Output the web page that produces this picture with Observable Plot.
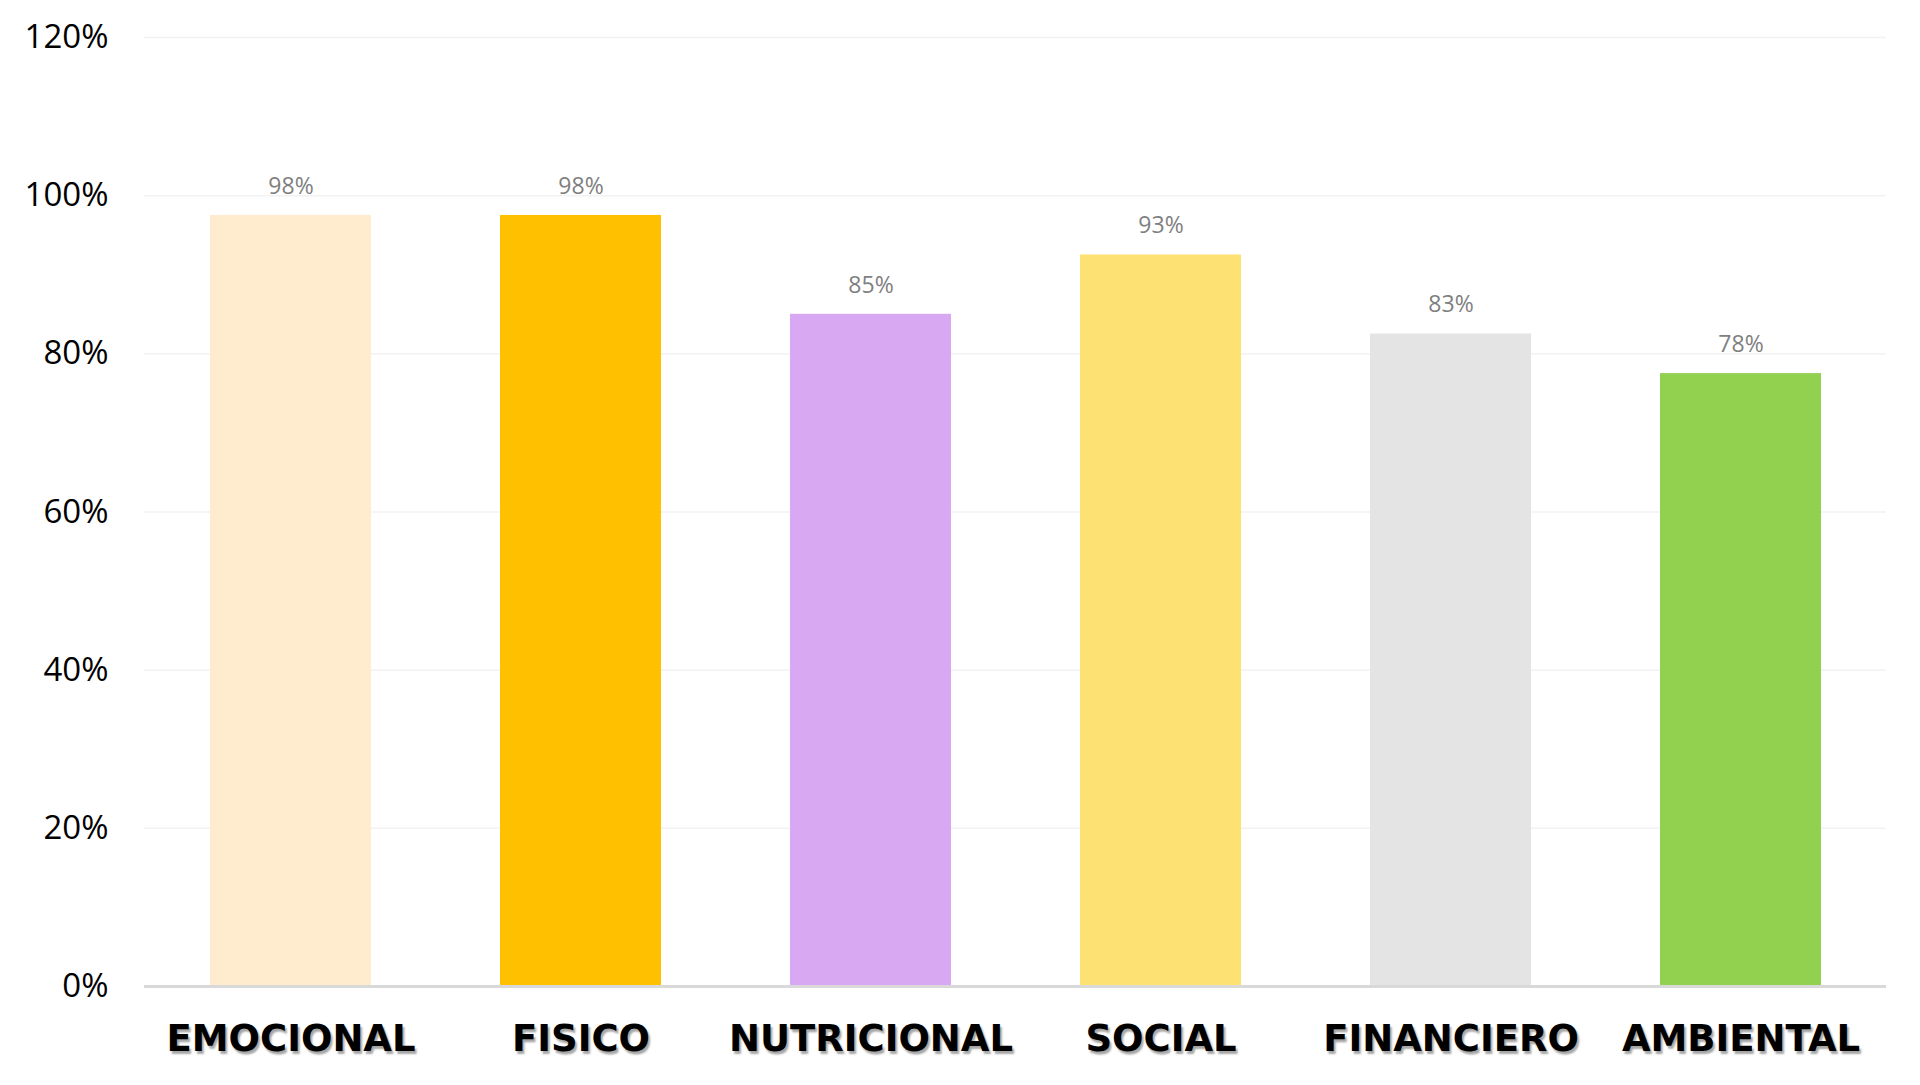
<!DOCTYPE html>
<html>
<head>
<meta charset="utf-8">
<script src="https://cdn.jsdelivr.net/npm/d3@7"></script>
<script src="https://cdn.jsdelivr.net/npm/@observablehq/plot@0.6"></script>
<style>
  html, body { margin: 0; padding: 0; background: #fff; }
  #chart svg { display: block; }
  .cat text { text-shadow: 2px 3px 2px rgba(0,0,0,0.35); }
</style>
</head>
<body>
<div id="chart"></div>
<script>
const categories = ["EMOCIONAL", "FISICO", "NUTRICIONAL", "SOCIAL", "FINANCIERO", "AMBIENTAL"];
const values = [97.5, 97.5, 85, 92.5, 82.5, 77.5];
const colors = ["#FFEBCD", "#FFC000", "#D8A8F2", "#FDE172", "#E4E4E4", "#92D050"];
const yTicks = [0, 20, 40, 60, 80, 100, 120];

const data = categories.map((c, i) => ({category: c, value: values[i], color: colors[i]}));

const chart = Plot.plot({
  width: 1920,
  height: 1085,
  marginLeft: 144,
  marginRight: 34,
  marginTop: 37,
  marginBottom: 99,
  style: {background: "#fff"},
  x: {domain: categories, paddingInner: 0.445, paddingOuter: 0.2225, label: null, axis: null},
  y: {domain: [0, 120], ticks: yTicks, label: null},
  marks: [
    Plot.ruleY(yTicks.filter(d => d > 0), {stroke: "#f2f2f2", strokeWidth: 1.5}),
    Plot.barY(data, {x: "category", y: "value", fill: "color"}),
    Plot.ruleY([0], {stroke: "#d9d9d9", strokeWidth: 3}),
    Plot.axisY({
      ticks: yTicks,
      tickSize: 0,
      tickPadding: 36,
      tickFormat: d => d + "%",
      fontSize: 33,
      fontFamily: "Open Sans, sans-serif",
      fill: "#000",
      label: null
    }),
    Plot.text(data, {
      x: "category",
      y: "value",
      text: d => Math.round(d.value) + "%",
      dy: -29,
      fontSize: 23,
      fontFamily: "Open Sans, sans-serif",
      fill: "#7f7f7f",
      lineAnchor: "middle"
    }),
    Plot.text(data, {
      x: "category",
      y: () => 0,
      text: "category",
      dy: 53,
      fontSize: 37,
      fontWeight: "bold",
      fontFamily: "DejaVu Sans, sans-serif",
      fill: "#000",
      lineAnchor: "middle",
      className: "cat"
    })
  ]
});
document.getElementById("chart").appendChild(chart);
</script>
</body>
</html>
